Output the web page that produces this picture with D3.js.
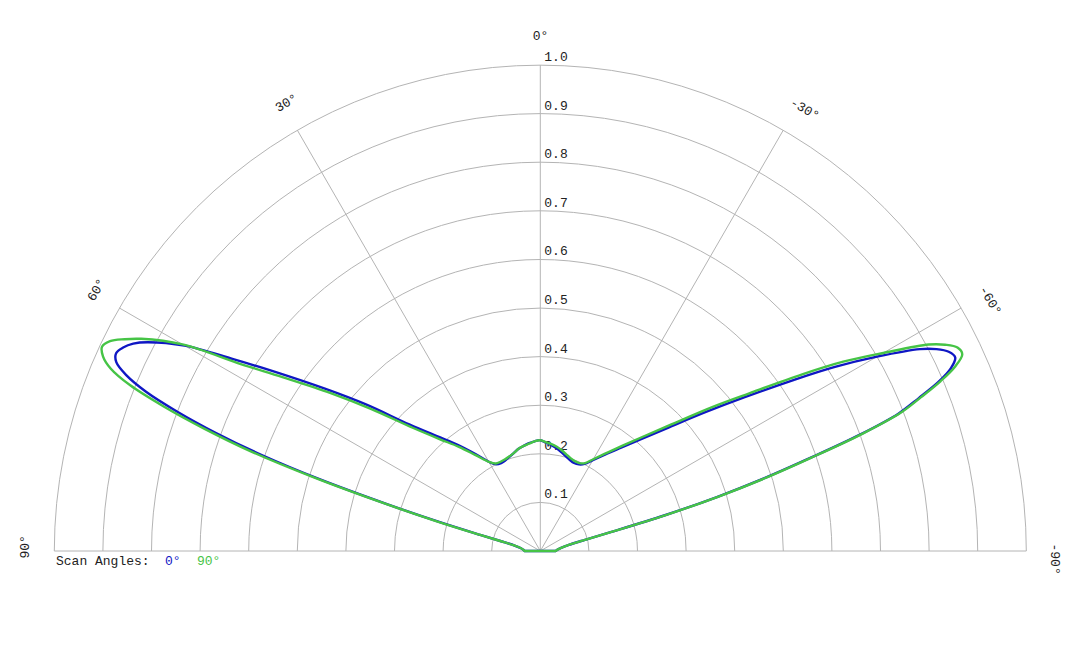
<!DOCTYPE html>
<html>
<head>
<meta charset="utf-8">
<script src="https://cdn.jsdelivr.net/npm/d3@7"></script>
<style>
  body { margin: 0; background: #fff; }
  text { font-family: "Courier New", "Liberation Mono", monospace; font-size: 13px; fill: #222; }
</style>
</head>
<body>
<div class="canvas"></div>
<script>
// scan angle (deg, positive = left of broadside) shared by both series
const angles = [-90, -86, -82, -78, -76, -75, -74, -73, -72, -71, -70, -69, -68, -67, -66, -65, -64, -63, -62, -60,
  -58, -56, -53, -50, -46, -42, -38, -34, -30, -27, -24, -21, -18, -15, -12, -9, -6, -3,
  0, 3, 6, 9, 12, 15, 18, 21, 24, 27, 30, 34, 38, 42, 46, 50, 53, 56, 58,
  60, 62, 63, 64, 65, 66, 67, 68, 69, 70, 71, 72, 73, 74, 75, 76, 78, 82, 86, 90];

// normalised gain, scan angle 0°
const scan0 = [0.032, 0.035, 0.042, 0.06, 0.093, 0.148, 0.265, 0.38, 0.485, 0.585, 0.70, 0.79, 0.84, 0.89, 0.925, 0.942, 0.935, 0.915, 0.885, 0.80,
  0.715, 0.63, 0.525, 0.445, 0.365, 0.31, 0.27, 0.24, 0.216, 0.201, 0.195, 0.194, 0.197, 0.202, 0.208, 0.214, 0.219, 0.223,
  0.228, 0.226, 0.223, 0.219, 0.215, 0.209, 0.204, 0.200, 0.198, 0.200, 0.212, 0.242, 0.278, 0.318, 0.375, 0.47, 0.555, 0.66, 0.745,
  0.845, 0.915, 0.94, 0.955, 0.963, 0.955, 0.925, 0.875, 0.80, 0.71, 0.605, 0.475, 0.33, 0.215, 0.128, 0.083, 0.054, 0.04, 0.035, 0.032];

// normalised gain, scan angle 90°
const scan90 = [0.032, 0.035, 0.042, 0.06, 0.095, 0.15, 0.27, 0.385, 0.49, 0.59, 0.705, 0.795, 0.845, 0.895, 0.935, 0.958, 0.955, 0.935, 0.905, 0.815,
  0.735, 0.65, 0.54, 0.46, 0.375, 0.317, 0.275, 0.243, 0.218, 0.203, 0.198, 0.198, 0.201, 0.206, 0.212, 0.217, 0.221, 0.224,
  0.228, 0.226, 0.222, 0.219, 0.215, 0.209, 0.205, 0.202, 0.201, 0.202, 0.212, 0.238, 0.272, 0.31, 0.365, 0.455, 0.54, 0.64, 0.725,
  0.85, 0.93, 0.96, 0.985, 0.995, 0.985, 0.96, 0.91, 0.83, 0.735, 0.63, 0.49, 0.34, 0.22, 0.13, 0.085, 0.055, 0.04, 0.035, 0.032];

const ringTicks = [0.1, 0.2, 0.3, 0.4, 0.5, 0.6, 0.7, 0.8, 0.9, 1.0];
const spokeTicks = [90, 60, 30, 0, -30, -60, -90];
const series = [
  { name: '0°', values: scan0, color: '#0f17c4' },
  { name: '90°', values: scan90, color: '#46c446' }
];

const width = 1080, height = 648;
const cent = { x: 540.3, y: 551 };
const radius = 486;

const svg = d3.select('.canvas').append('svg')
  .attr('width', width)
  .attr('height', height);

const graph = svg.append('g').attr('transform', `translate(${cent.x}, ${cent.y})`);

const r = d3.scaleLinear().domain([0, 1]).range([0, radius]);
const toRad = deg => -deg * Math.PI / 180;

// rings (upper half only)
graph.selectAll('.ring')
  .data(ringTicks)
  .enter().append('path')
  .attr('class', 'ring')
  .attr('d', d => {
    const rr = r(d);
    return `M${-rr},0A${rr},${rr} 0 0 1 ${rr},0`;
  })
  .attr('fill', 'none')
  .attr('stroke', '#b4b4b4')
  .attr('stroke-width', 1);

// spokes
graph.selectAll('.spoke')
  .data(spokeTicks)
  .enter().append('line')
  .attr('class', 'spoke')
  .attr('x1', 0).attr('y1', 0)
  .attr('x2', d => r(1) * Math.sin(toRad(d)))
  .attr('y2', d => -r(1) * Math.cos(toRad(d)))
  .attr('stroke', '#b4b4b4')
  .attr('stroke-width', 1);

// radial value labels
graph.selectAll('.rlabel')
  .data(ringTicks)
  .enter().append('text')
  .attr('class', 'rlabel')
  .attr('x', 4)
  .attr('y', d => -r(d) - 4)
  .text(d => d.toFixed(1));

// angle labels, rotated along the rim
graph.selectAll('.alabel')
  .data(spokeTicks)
  .enter().append('text')
  .attr('class', 'alabel')
  .attr('transform', d => {
    const a = toRad(d);
    const rr = radius + 25;
    return `translate(${rr * Math.sin(a)}, ${-rr * Math.cos(a)}) rotate(${-d})`;
  })
  .attr('x', -7.5)
  .text(d => `${d}°`);

// pattern curves
const radial = d3.lineRadial()
  .angle(i => toRad(angles[i]))
  .curve(d3.curveCatmullRom.alpha(0.5));

graph.selectAll('.pattern')
  .data(series)
  .enter().append('path')
  .attr('class', 'pattern')
  .attr('d', s => radial.radius(i => r(s.values[i]))(d3.range(angles.length)) + 'Z')
  .attr('fill', 'none')
  .attr('stroke', s => s.color)
  .attr('stroke-width', 2.4)
  .attr('stroke-linejoin', 'round');

// legend
const legend = svg.append('g').attr('transform', 'translate(56, 565)');
legend.append('text').text('Scan Angles:');
legend.selectAll('.lg')
  .data(series)
  .enter().append('text')
  .attr('class', 'lg')
  .attr('x', (d, i) => 109 + i * 32)
  .style('fill', d => d.color)
  .text(d => d.name);
</script>
</body>
</html>
